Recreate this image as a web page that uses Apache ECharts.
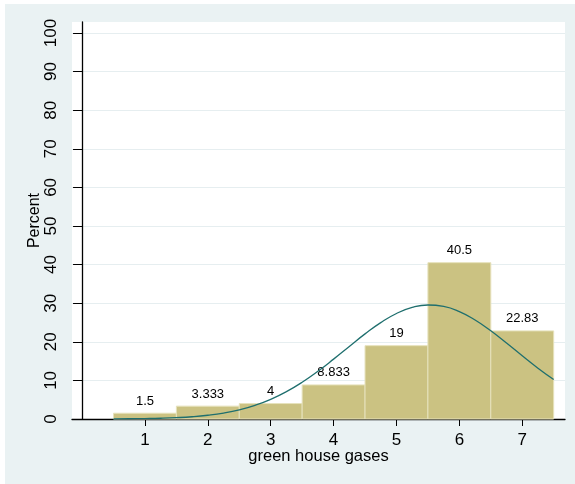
<!DOCTYPE html>
<html>
<head>
<meta charset="utf-8">
<script src="https://cdn.jsdelivr.net/npm/echarts@6/dist/echarts.min.js"></script>
<style>
html,body{margin:0;padding:0;background:#fff;}
#c{width:575px;height:484px;}
</style>
</head>
<body>
<div id="c"></div>
<script>
// Histogram bins (category centres) and their percents
const bins = [1, 2, 3, 4, 5, 6, 7];
const percents = [1.5, 3.333, 4, 8.833, 19, 40.5, 22.83];
// Normal density overlay
const curveX = [0.5, 0.75, 1, 1.25, 1.5, 1.75, 2, 2.25, 2.5, 2.75, 3, 3.25, 3.5, 3.75, 4, 4.25, 4.5, 4.75, 5, 5.25, 5.5, 5.75, 6, 6.25, 6.5, 6.75, 7, 7.25, 7.5];
const curveY = [0.03, 0.06, 0.11, 0.19, 0.34, 0.58, 0.97, 1.54, 2.37, 3.54, 5.09, 7.08, 9.51, 12.36, 15.51, 18.81, 22.05, 24.97, 27.33, 28.9, 29.53, 29.16, 27.83, 25.66, 22.86, 19.68, 16.38, 13.17, 10.23];
const xTicks = [1, 2, 3, 4, 5, 6, 7];
const yTicks = [0, 10, 20, 30, 40, 50, 60, 70, 80, 90, 100];

const chart = echarts.init(document.getElementById('c'));
const font = 'Liberation Sans, Arial, sans-serif';

chart.setOption({
  animation: false,
  backgroundColor: 'transparent',
  graphic: [{
    type: 'rect', z: -10, silent: true,
    shape: {x: 5, y: 4, width: 570, height: 480},
    style: {fill: '#eaf2f3'}
  }],
  grid: {
    left: 72, right: 10, top: 22, bottom: 65,
    show: true, backgroundColor: '#ffffff', borderWidth: 0
  },
  xAxis: {
    type: 'value', min: -0.16, max: 7.68,
    name: 'green house gases', nameLocation: 'middle', nameGap: 29, nameMoveOverlap: false,
    nameTextStyle: {fontFamily: font, fontSize: 16.5, color: '#000'},
    axisLine: {show: true, lineStyle: {color: '#000', width: 1.3}},
    axisTick: {show: true, length: 7, customValues: xTicks, lineStyle: {color: '#000'}},
    axisLabel: {customValues: xTicks, margin: 13, fontFamily: font, fontSize: 17, color: '#000'},
    splitLine: {show: false}
  },
  yAxis: {
    type: 'value', min: 0, max: 102.85,
    name: 'Percent', nameLocation: 'middle', nameGap: 29, nameRotate: 90, nameMoveOverlap: false,
    nameTextStyle: {fontFamily: font, fontSize: 16, color: '#000'},
    axisLine: {show: true, lineStyle: {color: '#000', width: 1.3}},
    axisTick: {show: true, length: 9, customValues: yTicks, lineStyle: {color: '#000'}},
    axisLabel: {customValues: yTicks, rotate: 90, margin: 12, fontFamily: font, fontSize: 17, color: '#000'},
    splitLine: {show: true, lineStyle: {color: '#e6eef0', width: 1}}
  },
  series: [{
    type: 'custom',
    z: 2,
    data: bins.map((b, i) => [b, percents[i]]),
    renderItem: function (params, api) {
      const x = api.value(0), v = api.value(1);
      const p0 = api.coord([x - 0.5, v]);
      const p1 = api.coord([x + 0.5, 0]);
      return {
        type: 'rect',
        shape: {x: p0[0], y: p0[1], width: p1[0] - p0[0], height: p1[1] - p0[1]},
        style: {fill: '#cbc282', stroke: '#e6e2bc', lineWidth: 1},
        textContent: {
          style: {text: String(v), fontFamily: font, fontSize: 13, fill: '#000'}
        },
        textConfig: {position: 'top', distance: 5}
      };
    }
  }, {
    type: 'line',
    z: 3,
    data: curveX.map((x, i) => [x, curveY[i]]),
    smooth: true,
    showSymbol: false,
    lineStyle: {color: '#1f6f6e', width: 1.3}
  }]
});
</script>
</body>
</html>
